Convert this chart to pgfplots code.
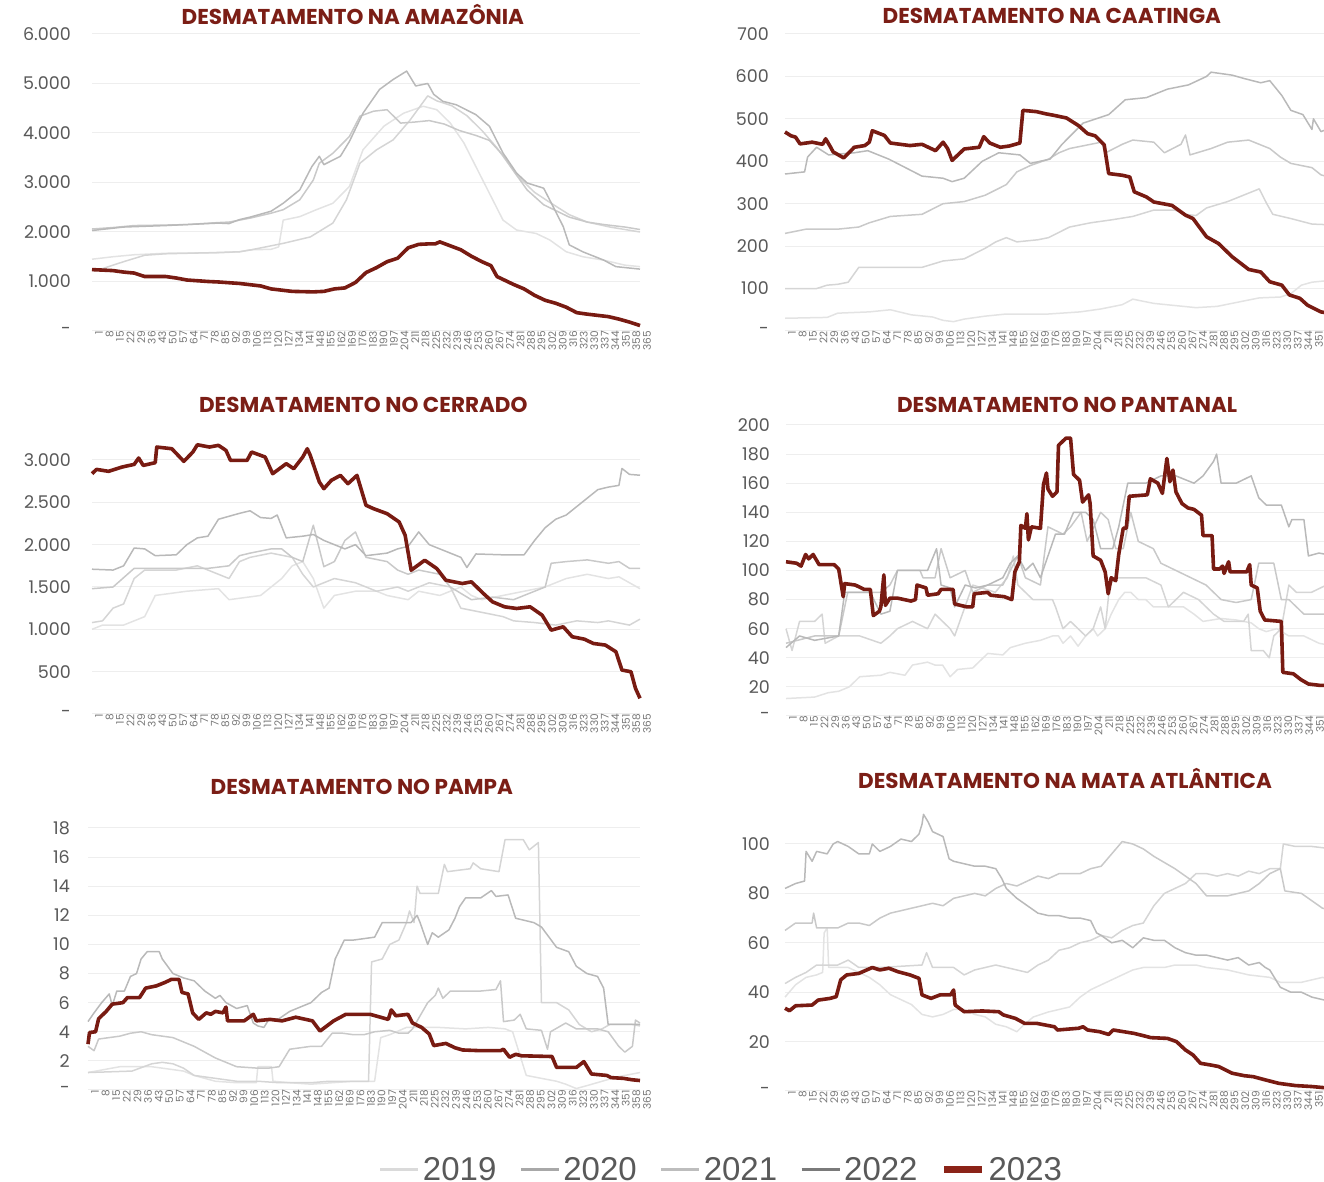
\documentclass[border=0pt]{standalone}
\usepackage{fontspec}
\setmainfont{Poppins}
\newfontfamily\legendfont{Liberation Sans}
\usepackage{pgfplots}
\pgfplotsset{compat=1.18}
\definecolor{c19}{HTML}{E3E3E3}
\definecolor{c20}{HTML}{C9C9C9}
\definecolor{c21}{HTML}{D5D5D5}
\definecolor{c22}{HTML}{B9B9B9}
\definecolor{c23}{RGB}{120,27,18}
\definecolor{l19}{HTML}{DADADA}
\definecolor{l20}{HTML}{A8A8A8}
\definecolor{l21}{HTML}{BDBDBD}
\definecolor{l22}{HTML}{7A7A7A}
\definecolor{l23}{RGB}{139,35,24}
\definecolor{gridc}{HTML}{EEEEEE}
\definecolor{ylab}{HTML}{595959}
\definecolor{xlab}{HTML}{767676}
\definecolor{titlec}{RGB}{123,30,22}
\pgfplotsset{
 panel/.style={
  scale only axis, width=548pt, anchor=south west, xmin=1, xmax=365,
  clip=false, axis line style={draw=none}, major tick length=0pt,
  ymajorgrids, grid style={color=gridc, line width=1pt},
  xtick={1,8,...,365},
  /pgf/number format/assume math mode=true,
  xticklabel style={rotate=90, anchor=east, inner sep=0pt, yshift=-7pt, font=\fontsize{10.5}{10.5}\selectfont, color=xlab},
  yticklabel style={anchor=east, inner sep=0pt, font=\fontsize{17.5}{18}\selectfont, color=ylab},
  title style={font=\fontsize{21.5}{23}\selectfont\bfseries, color=titlec, anchor=center},
  every axis plot/.append style={line join=round, mark=none},
 },
 y19/.style={color=c19, line width=1.5pt},
 y20/.style={color=c20, line width=1.5pt},
 y21/.style={color=c21, line width=1.5pt},
 y22/.style={color=c22, line width=1.5pt},
 y23/.style={color=c23, line width=3.6pt},
}
\begin{document}
\begin{tikzpicture}
% ---------------- AMAZONIA
\begin{axis}[panel, at={(92pt,851pt)}, height=297pt, ymin=0, ymax=6000,
 ytick={0,1000,...,6000}, yticklabels={-,1.000,2.000,3.000,4.000,5.000,6.000},
 yticklabel style={xshift=-21pt},
 title={DESMATAMENTO NA AMAZÔNIA}, title style={at={(0.476,1.054)}, yshift=-3pt}]
\addplot[y19] coordinates {(1,1450) (15,1500) (29,1540) (50,1570) (85,1580) (99,1600) (106,1640) (120,1650) (125,1700) (128,2240) (139,2310) (150,2450) (161,2580) (172,2920) (181,3660) (195,4140) (208,4400) (221,4540) (230,4470) (239,4200) (248,3800) (257,3260) (265,2780) (274,2240) (283,2040) (296,1970) (305,1840) (316,1600) (327,1500) (341,1430) (355,1330) (365,1300)};
\addplot[y21] coordinates {(1,1230) (8,1260) (22,1400) (36,1530) (50,1560) (78,1580) (99,1600) (106,1635) (128,1770) (146,1900) (161,2180) (170,2650) (179,3390) (190,3660) (201,3860) (212,4250) (224,4750) (230,4650) (240,4550) (250,4350) (260,4050) (270,3700) (283,3150) (295,2800) (305,2600) (318,2350) (330,2200) (345,2100) (365,2000)};
\addplot[y20] coordinates {(1,2060) (15,2090) (29,2130) (50,2140) (64,2150) (85,2190) (92,2200) (106,2280) (120,2380) (128,2450) (139,2650) (148,3050) (152,3390) (161,3590) (172,3930) (179,4340) (188,4440) (197,4470) (206,4200) (215,4220) (225,4250) (235,4180) (245,4050) (256,3950) (265,3850) (274,3550) (283,3150) (290,2850) (301,2550) (318,2300) (330,2200) (341,2150) (355,2100) (365,2050)};
\addplot[y22] coordinates {(1,2030) (22,2100) (50,2130) (85,2180) (92,2170) (99,2250) (106,2300) (120,2420) (128,2580) (139,2850) (147,3320) (152,3530) (155,3360) (166,3530) (172,3830) (181,4400) (192,4880) (201,5080) (210,5250) (216,4950) (224,5000) (228,4780) (234,4640) (243,4570) (256,4370) (265,4135) (274,3595) (283,3190) (290,2990) (301,2885) (305,2650) (314,2110) (318,1740) (327,1600) (341,1430) (349,1300) (365,1250)};
\addplot[y23] coordinates {(1,1240) (8,1230) (15,1220) (22,1190) (29,1170) (36,1100) (50,1100) (57,1070) (64,1030) (78,1000) (85,990) (99,960) (113,910) (120,850) (134,800) (148,790) (155,800) (162,850) (169,870) (176,980) (183,1180) (190,1280) (197,1400) (204,1470) (211,1680) (218,1750) (225,1760) (229,1760) (232,1800) (239,1720) (246,1640) (253,1510) (260,1400) (266,1320) (270,1100) (281,940) (288,850) (295,720) (302,620) (309,560) (316,480) (323,370) (330,340) (344,290) (351,240) (358,180) (365,110)};
\end{axis}
% ---------------- CAATINGA
\begin{axis}[panel, at={(785pt,851pt)}, height=297pt, ymin=0, ymax=700,
 ytick={0,100,...,700}, yticklabels={-,100,200,300,400,500,600,700},
 yticklabel style={xshift=-16pt},
 title={DESMATAMENTO NA CAATINGA}, title style={at={(0.487,1.054)}, yshift=-4pt}]
\addplot[y19] coordinates {(1,30) (29,32) (36,42) (57,45) (71,50) (85,38) (99,33) (106,25) (113,22) (120,28) (134,35) (148,40) (176,40) (197,45) (211,52) (225,62) (232,75) (246,65) (260,60) (274,55) (288,58) (302,68) (316,78) (330,80) (337,88) (344,108) (351,115) (365,120)};
\addplot[y21] coordinates {(1,100) (22,100) (29,108) (36,110) (43,115) (50,150) (71,150) (92,150) (106,165) (120,170) (134,195) (141,210) (148,220) (155,210) (169,215) (176,220) (190,245) (204,255) (218,262) (232,270) (246,285) (260,285) (267,275) (274,272) (281,290) (295,305) (309,325) (316,335) (321,300) (325,275) (337,265) (351,252) (365,250)};
\addplot[y20] coordinates {(1,230) (15,240) (36,240) (50,245) (57,255) (71,270) (92,275) (106,300) (120,305) (134,320) (148,345) (155,375) (164,390) (176,405) (183,420) (190,430) (204,440) (211,445) (214,420) (225,440) (232,450) (246,445) (253,420) (264,440) (267,462) (270,415) (284,430) (295,445) (309,450) (316,440) (323,430) (330,410) (337,395) (351,385) (357,368) (365,360)};
\addplot[y22] coordinates {(1,370) (14,375) (16,410) (22,433) (30,415) (47,420) (56,425) (70,405) (81,385) (92,365) (106,360) (112,352) (120,360) (132,400) (143,420) (157,415) (164,395) (177,405) (185,440) (199,490) (216,510) (227,545) (241,550) (255,570) (269,580) (281,600) (284,610) (298,603) (306,595) (317,585) (323,590) (331,555) (337,520) (345,510) (351,475) (352,500) (357,470) (365,480)};
\addplot[y23] coordinates {(1,469) (5,460) (8,457) (11,441) (19,445) (26,440) (28,453) (31,435) (33,422) (40,408) (47,433) (54,437) (57,445) (59,472) (64,465) (67,461) (71,443) (84,437) (92,440) (101,425) (106,445) (109,430) (112,402) (120,429) (130,433) (133,458) (137,443) (144,433) (150,436) (157,443) (159,520) (168,517) (174,512) (180,508) (188,502) (196,484) (202,465) (207,460) (213,439) (216,371) (225,367) (230,363) (233,328) (241,316) (246,304) (258,296) (267,273) (272,265) (281,222) (289,206) (298,175) (309,145) (317,139) (323,116) (331,108) (336,85) (343,77) (348,61) (357,45) (365,40)};
\end{axis}
% ---------------- CERRADO
\begin{axis}[panel, at={(92pt,468pt)}, height=254pt, ymin=0, ymax=3000,
 ytick={0,500,...,3000}, yticklabels={-,500,1.000,1.500,2.000,2.500,3.000},
 yticklabel style={xshift=-21pt},
 title={DESMATAMENTO NO CERRADO}, title style={at={(0.495,1.22)}, yshift=-7pt}]
\addplot[y19] coordinates {(1,1000) (8,1050) (22,1050) (36,1150) (43,1400) (64,1450) (85,1480) (92,1350) (113,1400) (127,1600) (134,1750) (141,1800) (148,1600) (155,1250) (162,1400) (176,1450) (190,1450) (197,1400) (211,1350) (218,1450) (232,1400) (246,1500) (253,1400) (260,1350) (274,1400) (288,1450) (302,1500) (316,1600) (330,1650) (344,1600) (351,1620) (365,1480)};
\addplot[y21] coordinates {(1,1080) (8,1100) (15,1250) (22,1300) (29,1600) (36,1700) (57,1700) (71,1750) (92,1600) (99,1800) (106,1850) (120,1900) (134,1850) (141,1650) (148,1500) (155,1550) (162,1600) (176,1550) (183,1500) (190,1450) (204,1500) (211,1450) (218,1500) (225,1550) (239,1500) (246,1250) (260,1200) (274,1150) (281,1100) (295,1080) (309,1050) (323,1100) (337,1080) (344,1100) (358,1050) (365,1120)};
\addplot[y20] coordinates {(1,1480) (15,1500) (29,1720) (43,1720) (78,1720) (92,1750) (99,1870) (106,1900) (120,1950) (127,1950) (134,1850) (141,1800) (148,2230) (155,1740) (162,1800) (169,2050) (176,2150) (183,1850) (197,1800) (204,1700) (211,1650) (218,1700) (232,1650) (239,1500) (253,1350) (267,1380) (281,1350) (295,1450) (302,1500) (306,1780) (316,1800) (330,1820) (344,1780) (351,1800) (358,1720) (365,1720)};
\addplot[y22] coordinates {(1,1710) (15,1700) (22,1750) (29,1960) (36,1950) (43,1870) (57,1880) (64,2000) (71,2080) (78,2100) (85,2300) (99,2370) (106,2400) (113,2320) (120,2310) (124,2350) (130,2080) (141,2100) (148,2120) (155,2050) (162,2000) (169,1950) (176,2000) (183,1870) (197,1900) (204,1950) (211,1980) (218,2150) (225,2000) (232,1950) (246,1850) (250,1730) (256,1890) (274,1880) (288,1880) (295,2050) (302,2200) (309,2300) (316,2350) (323,2450) (330,2550) (337,2650) (344,2680) (351,2700) (353,2900) (358,2830) (365,2820)};
\addplot[y23] coordinates {(1,2838) (4,2889) (12,2866) (21,2917) (29,2948) (32,3023) (35,2936) (43,2968) (44,3153) (54,3133) (62,2984) (68,3094) (71,3180) (79,3153) (85,3173) (90,3113) (93,2995) (104,2995) (107,3094) (116,3035) (121,2838) (130,2956) (135,2897) (141,3035) (144,3133) (146,3054) (152,2740) (155,2661) (160,2760) (166,2818) (171,2720) (177,2818) (183,2465) (188,2425) (197,2366) (205,2268) (209,2111) (213,1698) (222,1816) (230,1718) (236,1580) (247,1541) (253,1561) (261,1423) (267,1325) (275,1266) (283,1246) (292,1266) (300,1167) (306,990) (314,1030) (320,912) (328,884) (334,833) (342,814) (349,735) (353,519) (359,499) (362,303) (365,185)};
\end{axis}
% ---------------- PANTANAL
\begin{axis}[panel, at={(786pt,466pt)}, height=291pt, ymin=0, ymax=200,
 ytick={0,20,...,200}, yticklabels={-,20,40,60,80,100,120,140,160,180,200},
 yticklabel style={xshift=-16pt},
 title={DESMATAMENTO NO PANTANAL}, title style={at={(0.513,1.073)}, yshift=-7pt}]
\addplot[y19] coordinates {(1,12) (20,13) (29,16) (36,17) (43,20) (50,27) (64,28) (70,30) (80,28) (85,35) (95,37) (100,35) (105,35) (110,27) (115,32) (125,33) (135,43) (145,42) (150,47) (160,50) (170,52) (178,55) (182,55) (185,50) (190,55) (195,48) (200,55) (205,60) (208,55) (213,60) (217,70) (222,80) (226,85) (230,85) (235,80) (240,80) (245,75) (255,75) (265,75) (272,70) (278,65) (290,67) (300,66) (310,64) (315,60) (320,58) (327,60) (335,55) (345,55) (355,50) (365,48)};
\addplot[y21] coordinates {(1,60) (5,45) (10,65) (20,65) (25,70) (27,50) (36,55) (50,55) (64,50) (70,55) (75,60) (85,65) (95,60) (100,70) (110,60) (113,55) (125,90) (140,85) (148,95) (152,110) (155,90) (165,80) (178,80) (180,75) (185,60) (190,65) (200,55) (205,60) (210,75) (213,60) (216,90) (220,95) (230,95) (240,95) (250,90) (255,75) (265,85) (275,80) (285,70) (292,65) (305,65) (308,70) (310,45) (318,45) (322,40) (325,55) (330,60) (335,90) (340,85) (350,85) (360,90) (365,85)};
\addplot[y20] coordinates {(1,50) (20,55) (36,55) (42,85) (55,85) (64,85) (70,90) (75,100) (90,100) (92,95) (100,95) (104,115) (110,95) (120,100) (125,85) (135,90) (145,90) (150,100) (155,110) (160,95) (170,90) (175,130) (185,125) (190,130) (197,140) (201,120) (210,140) (215,135) (220,115) (225,115) (230,140) (235,120) (245,115) (250,105) (260,100) (270,95) (280,90) (290,80) (300,78) (310,80) (315,105) (325,105) (330,80) (335,80) (345,70) (360,70) (365,65)};
\addplot[y22] coordinates {(1,47) (10,55) (20,52) (36,55) (40,85) (57,85) (64,70) (70,72) (75,100) (95,100) (101,115) (104,90) (110,88) (113,75) (120,90) (127,88) (135,90) (145,95) (150,105) (155,110) (160,100) (165,105) (170,95) (180,125) (186,125) (192,140) (200,140) (205,135) (210,115) (218,115) (222,130) (228,160) (240,160) (250,165) (260,165) (272,160) (278,165) (285,175) (287,180) (290,160) (300,160) (310,165) (315,150) (320,145) (330,145) (335,130) (337,135) (345,135) (348,110) (355,112) (365,110)};
\addplot[y23] coordinates {(1,106) (8,105) (11,103) (14,111) (16,108) (19,111) (23,104) (33,104) (36,101) (39,82) (40,91) (47,90) (53,87) (57,87) (59,69) (63,72) (64,75) (66,97) (67,76) (70,81) (75,81) (84,79) (87,80) (88,90) (94,88) (95,83) (102,84) (104,87) (112,87) (113,77) (121,75) (125,75) (126,84) (135,85) (137,83) (146,82) (151,80) (153,99) (156,106) (157,131) (160,129) (161,139) (162,121) (164,130) (170,129) (172,159) (174,167) (175,156) (178,151) (181,154) (182,186) (187,191) (190,191) (192,166) (196,162) (198,147) (202,152) (203,146) (205,110) (210,107) (213,99) (215,84) (217,95) (220,93) (222,111) (225,129) (227,129) (229,151) (241,152) (243,163) (248,160) (251,153) (254,177) (256,161) (258,169) (260,154) (264,146) (268,143) (272,142) (277,138) (278,124) (284,124) (285,101) (289,101) (291,103) (292,98) (295,106) (296,99) (307,99) (309,104) (310,90) (314,88) (316,72) (319,66) (330,65) (331,30) (338,29) (343,25) (348,22) (356,21) (365,21)};
\end{axis}
% ---------------- PAMPA
\begin{axis}[panel, at={(88pt,92pt)}, width=552pt, height=262pt, ymin=0, ymax=18,
 ytick={0,2,...,18}, yticklabels={-,2,4,6,8,10,12,14,16,18},
 yticklabel style={xshift=-18pt},
 title={DESMATAMENTO NO PAMPA}, title style={at={(0.496,1.16)}, yshift=-7pt}]
\addplot[y19] coordinates {(1,1.2) (22,1.6) (43,1.6) (57,1.4) (64,1.3) (71,1.0) (85,0.6) (99,0.5) (112,0.5) (113,1.6) (122,1.6) (123,0.6) (134,0.5) (148,0.4) (162,0.5) (176,0.6) (190,0.6) (194,3.6) (200,3.8) (211,4.3) (232,4.3) (250,4.2) (265,4.3) (276,4.2) (281,4.0) (290,1.0) (300,0.8) (310,0.6) (316,0.4) (323,0.1) (330,0.3) (340,0.6) (350,0.9) (365,1.2)};
\addplot[y21] coordinates {(1,1.2) (30,1.3) (43,1.8) (50,1.9) (57,1.8) (64,1.5) (71,1.0) (85,0.8) (99,0.6) (113,0.6) (127,0.5) (148,0.5) (160,0.6) (176,0.6) (186,0.6) (188,8.8) (195,9.0) (200,10) (206,10.3) (211,11.5) (213,12.3) (216,11.5) (218,14) (220,13.5) (232,13.5) (236,15.5) (238,15.0) (253,15.2) (255,15.6) (260,15.2) (272,15.0) (276,17.2) (288,17.2) (292,16.5) (298,17.0) (300,6.0) (310,6.0) (318,5.5) (325,4.5) (333,4.0) (340,4.2) (345,4.5) (360,4.5) (365,4.4)};
\addplot[y20] coordinates {(1,3.0) (5,2.7) (8,3.5) (15,3.6) (22,3.7) (29,3.9) (36,4.0) (43,3.8) (57,3.6) (64,3.3) (71,3.0) (78,2.6) (85,2.2) (92,1.9) (99,1.6) (113,1.5) (120,1.5) (127,1.6) (134,2.8) (141,2.9) (148,3.0) (155,3.0) (162,3.9) (169,3.9) (176,3.8) (183,3.8) (190,4.0) (200,4.1) (206,3.9) (212,3.9) (215,4.2) (225,6.0) (230,6.5) (232,7.0) (235,6.3) (240,6.8) (260,6.8) (270,6.9) (273,7.5) (275,4.7) (282,4.8) (286,5.2) (290,4.2) (300,4.1) (304,2.8) (306,4.0) (316,4.6) (323,4.2) (337,4.2) (344,4.0) (351,3.0) (355,2.6) (360,3.0) (362,4.8) (365,4.6)};
\addplot[y22] coordinates {(1,4.7) (5,5.3) (10,6.0) (15,6.6) (17,5.8) (20,6.8) (25,6.8) (29,7.8) (33,8.0) (36,9.0) (40,9.5) (48,9.5) (50,9.0) (57,8.0) (64,7.7) (71,7.5) (78,6.8) (85,6.3) (88,6.5) (92,6.0) (99,5.6) (106,5.8) (110,4.6) (113,4.4) (117,4.3) (120,4.8) (127,4.9) (134,5.4) (141,5.7) (148,6.0) (155,6.7) (160,7.0) (164,9.0) (170,10.3) (176,10.3) (190,10.5) (195,11.5) (200,11.5) (214,11.5) (218,12.0) (220,11.5) (225,10.0) (228,10.8) (232,10.5) (239,11.0) (243,11.8) (246,12.6) (250,13.2) (260,13.2) (267,13.7) (270,13.3) (278,13.4) (283,11.8) (295,11.5) (300,11.2) (305,10.5) (310,9.8) (318,9.5) (323,8.5) (330,8.0) (337,7.8) (341,7.0) (344,4.5) (350,4.5) (360,4.5) (365,4.5)};
\addplot[y23] coordinates {(1,3.15) (2,3.95) (6,4.0) (8,4.9) (13,5.4) (17,5.9) (24,6.0) (27,6.35) (35,6.35) (39,7.0) (46,7.15) (52,7.4) (56,7.6) (61,7.6) (63,6.7) (67,6.6) (70,5.3) (74,4.85) (79,5.3) (82,5.2) (85,5.4) (90,5.3) (92,5.7) (93,4.75) (104,4.75) (110,5.2) (112,4.75) (121,4.85) (129,4.75) (138,5.0) (149,4.75) (154,4.05) (163,4.75) (171,5.2) (187,5.2) (199,4.85) (201,5.5) (204,5.1) (212,5.2) (215,4.6) (221,4.3) (226,3.85) (229,3.05) (237,3.2) (243,2.9) (248,2.75) (260,2.7) (273,2.7) (275,2.8) (279,2.25) (283,2.45) (287,2.35) (307,2.3) (310,1.55) (323,1.55) (328,1.95) (333,1.1) (343,1.0) (346,0.85) (354,0.8) (360,0.7) (365,0.65)};
\end{axis}
% ---------------- MATA ATLANTICA
\begin{axis}[panel, at={(785pt,91pt)}, height=247pt, ymin=0, ymax=100,
 ytick={0,20,...,100}, yticklabels={-,20,40,60,80,100},
 yticklabel style={xshift=-15pt},
 title={DESMATAMENTO NA MATA ATLÂNTICA}, title style={at={(0.511,1.27)}, yshift=-7pt}]
\addplot[y19] coordinates {(1,38) (8,43) (15,46) (22,47) (26,48) (27,64) (29,66) (30,50) (36,50) (43,50) (50,48) (57,46) (64,43) (71,39) (78,37) (85,35) (92,31) (99,30) (106,31) (113,33) (120,33) (127,31) (134,30) (141,27) (148,26) (155,24) (160,27) (166,30) (176,32) (190,34) (197,38) (204,41) (211,43) (218,45) (225,47) (232,49) (239,50) (253,50) (260,51) (274,51) (281,50) (295,49) (309,47) (323,46) (330,44) (344,44) (351,45) (358,46) (365,45)};
\addplot[y21] coordinates {(1,43.5) (8,46) (15,48) (22,51) (36,51) (43,53) (50,50) (64,50) (92,51) (95,56) (99,50) (113,50) (120,47) (127,49) (141,51) (148,50) (155,49) (162,48) (169,51) (176,53) (183,57) (190,58) (197,60) (204,61) (211,63) (218,62) (225,65) (232,67) (239,68) (246,75) (253,80) (260,82) (267,84) (274,88) (281,88) (288,87) (295,88) (302,87) (309,89) (316,88) (323,90) (330,90) (332,100) (340,99) (351,99) (365,98)};
\addplot[y20] coordinates {(1,65) (8,68) (15,68) (19,68) (20,72) (22,66) (36,66) (43,68) (50,68) (57,67) (64,70) (71,72) (85,74) (99,76) (106,75) (113,78) (120,79) (127,80) (134,79) (141,82) (148,84) (155,83) (162,85) (169,87) (176,86) (183,88) (197,88) (204,90) (211,91) (218,96) (225,101) (232,100) (239,98) (246,95) (260,90) (274,84) (281,79) (295,79) (309,81) (316,84) (323,88) (330,90) (333,81) (344,80) (351,77) (358,74) (365,73)};
\addplot[y22] coordinates {(1,82) (8,84) (14,85) (15,97) (19,93) (22,97) (29,96) (33,100) (36,101) (43,99) (50,96) (57,96) (59,100) (64,97) (71,99) (78,102) (85,101) (90,104) (92,108) (93,112) (96,109) (99,105) (106,103) (110,94) (113,93) (120,92) (127,91) (134,91) (141,90) (145,86) (148,82) (155,78) (162,75) (169,72) (176,71) (183,71) (190,70) (197,70) (204,69) (208,64) (211,63) (218,60) (225,61) (232,58) (239,62) (246,61) (253,61) (260,58) (267,56) (274,55) (281,55) (288,54) (295,53) (302,54) (309,51) (316,52) (320,50) (323,49) (330,42) (337,40) (344,40) (351,38) (358,37) (365,36)};
\addplot[y23] coordinates {(1,33.5) (4,32.5) (8,34.5) (19,34.8) (23,36.8) (31,37.5) (35,38.2) (38,45) (42,47) (50,47.6) (59,50) (64,49) (70,49.7) (76,48.3) (84,47) (90,45.6) (92,38.9) (98,37.5) (104,38.9) (111,38.9) (113,40.9) (114,34.8) (120,32.1) (132,32.4) (143,32.1) (146,30.8) (154,29.4) (158,28.1) (160,27.4) (168,27.4) (180,26) (182,24.7) (196,25.4) (199,26) (202,24.7) (210,24.0) (216,22.9) (219,24.7) (233,23.3) (239,22.4) (244,21.6) (255,21.3) (261,20) (267,16.6) (272,14.6) (277,11.2) (284,10.5) (289,9.9) (298,7.2) (306,6.2) (312,5.8) (320,4.5) (329,3.1) (340,2.2) (351,1.8) (359,1.35) (365,1.2)};
\end{axis}
% ---------------- LEGEND
\begin{axis}[at={(0pt,0pt)}, anchor=south west, scale only axis, width=1324pt, height=1182pt,
 hide axis, xmin=0, xmax=1, ymin=0, ymax=1,
 legend columns=5,
 legend image code/.code={\draw[#1] (0pt,0pt) -- (38pt,0pt);},
 legend style={at={(0.5453,0.0102)}, anchor=center, draw=none, fill=none,
   font=\legendfont\fontsize{33}{33}\selectfont, text=ylab,
   nodes={inner sep=3pt},
   /tikz/every even column/.append style={column sep=20pt}}]
\addlegendimage{color=l19, line width=3pt}
\addlegendentry{2019}
\addlegendimage{color=l20, line width=3pt}
\addlegendentry{2020}
\addlegendimage{color=l21, line width=3pt}
\addlegendentry{2021}
\addlegendimage{color=l22, line width=3pt}
\addlegendentry{2022}
\addlegendimage{color=l23, line width=7pt}
\addlegendentry{2023}
\end{axis}
\pgfresetboundingbox
\useasboundingbox (0pt,0pt) rectangle (1324pt,1182pt);
\end{tikzpicture}
\end{document}
